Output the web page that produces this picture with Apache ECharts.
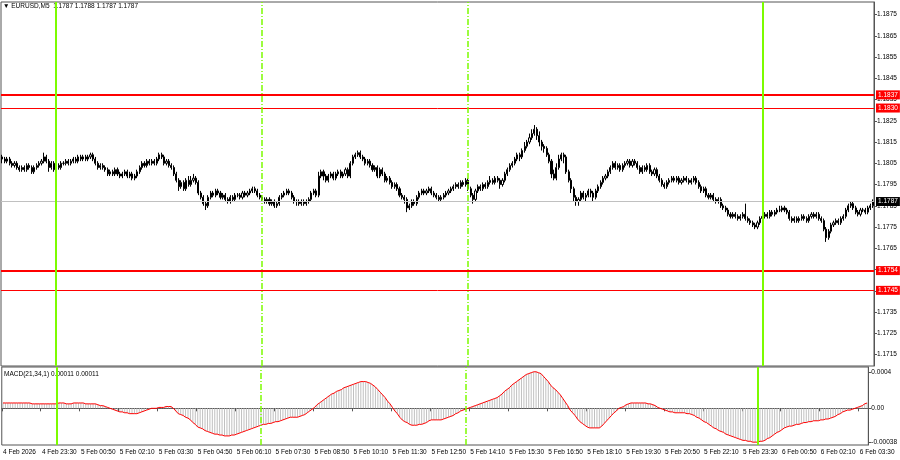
<!DOCTYPE html>
<html>
<head>
<meta charset="utf-8">
<title>EURUSD,M5</title>
<script src="https://cdn.jsdelivr.net/npm/echarts@6/dist/echarts.min.js"></script>
<style>
  html, body { margin: 0; padding: 0; background: #fff; }
  #chart { width: 900px; height: 460px; }
</style>
</head>
<body>
<div id="chart"></div>
<script>
// EURUSD M5 bars, 4 Feb 22:10 .. 6 Feb 03:45
var opens = [
  1.1808,1.1807,1.1806,1.1807,1.1805,1.1804,1.1805,1.1803,1.1802,1.1803,
  1.1802,1.1804,1.1803,1.1801,1.1803,1.1804,1.1805,1.1806,1.1808,1.1806,
  1.1803,1.1805,1.1802,1.1804,1.1803,1.1805,1.1805,1.1806,1.1805,1.1806,
  1.1807,1.1806,1.1808,1.1807,1.1808,1.1807,1.1808,1.1809,1.1807,1.1805,
  1.1803,1.1804,1.1803,1.1802,1.1800,1.1801,1.1800,1.1802,1.1800,1.1799,
  1.1800,1.1801,1.1799,1.1800,1.1798,1.1799,1.1801,1.1803,1.1805,1.1804,
  1.1806,1.1805,1.1806,1.1805,1.1807,1.1809,1.1808,1.1805,1.1806,1.1804,
  1.1803,1.1800,1.1797,1.1794,1.1796,1.1793,1.1797,1.1795,1.1797,1.1798,
  1.1796,1.1791,1.1789,1.1786,1.1785,1.1789,1.1791,1.1790,1.1792,1.1791,
  1.1789,1.1790,1.1788,1.1787,1.1789,1.1788,1.1790,1.1790,1.1789,1.1791,
  1.1790,1.1791,1.1792,1.1793,1.1792,1.1790,1.1789,1.1788,1.1787,1.1788,
  1.1786,1.1787,1.1785,1.1786,1.1789,1.1790,1.1791,1.1792,1.1791,1.1789,
  1.1787,1.1787,1.1786,1.1787,1.1786,1.1787,1.1788,1.1791,1.1792,1.1790,
  1.1799,1.1801,1.1799,1.1797,1.1799,1.1800,1.1798,1.1800,1.1801,1.1799,
  1.1800,1.1802,1.1799,1.1805,1.1808,1.1809,1.1810,1.1808,1.1807,1.1805,
  1.1806,1.1804,1.1802,1.1803,1.1799,1.1802,1.1800,1.1797,1.1798,1.1796,
  1.1794,1.1795,1.1793,1.1790,1.1789,1.1788,1.1784,1.1785,1.1787,1.1786,
  1.1789,1.1791,1.1792,1.1791,1.1792,1.1793,1.1791,1.1790,1.1789,1.1788,
  1.1789,1.1790,1.1791,1.1792,1.1793,1.1794,1.1795,1.1794,1.1796,1.1795,
  1.1797,1.1793,1.1790,1.1788,1.1792,1.1794,1.1793,1.1795,1.1794,1.1796,
  1.1797,1.1796,1.1798,1.1797,1.1795,1.1797,1.1800,1.1802,1.1804,1.1805,
  1.1807,1.1809,1.1808,1.1811,1.1813,1.1815,1.1817,1.1819,1.1821,1.1818,
  1.1815,1.1813,1.1812,1.1809,1.1806,1.1800,1.1798,1.1803,1.1807,1.1809,
  1.1808,1.1801,1.1797,1.1793,1.1789,1.1787,1.1788,1.1791,1.1789,1.1790,
  1.1792,1.1791,1.1789,1.1792,1.1794,1.1796,1.1798,1.1799,1.1801,1.1803,
  1.1805,1.1803,1.1804,1.1802,1.1804,1.1805,1.1806,1.1804,1.1806,1.1805,
  1.1803,1.1801,1.1803,1.1802,1.1804,1.1801,1.1800,1.1802,1.1799,1.1797,
  1.1795,1.1794,1.1796,1.1797,1.1798,1.1797,1.1798,1.1796,1.1797,1.1798,
  1.1797,1.1796,1.1797,1.1798,1.1796,1.1794,1.1792,1.1793,1.1790,1.1789,
  1.1790,1.1788,1.1787,1.1788,1.1785,1.1784,1.1783,1.1781,1.1780,1.1781,
  1.1780,1.1779,1.1780,1.1781,1.1779,1.1778,1.1777,1.1776,1.1775,1.1777,
  1.1779,1.1780,1.1781,1.1780,1.1782,1.1781,1.1782,1.1783,1.1783,1.1784,
  1.1783,1.1782,1.1779,1.1778,1.1779,1.1778,1.1779,1.1780,1.1779,1.1778,
  1.1780,1.1781,1.1780,1.1781,1.1779,1.1778,1.1774,1.1770,1.1773,1.1776,
  1.1777,1.1778,1.1777,1.1779,1.1780,1.1783,1.1785,1.1786,1.1784,1.1782,
  1.1781,1.1783,1.1783,1.1782,1.1784,1.1785
];
var closes = [
  1.1807,1.1806,1.1807,1.1805,1.1804,1.1805,1.1803,1.1802,1.1803,1.1802,
  1.1804,1.1803,1.1801,1.1803,1.1804,1.1805,1.1806,1.1808,1.1806,1.1803,
  1.1805,1.1802,1.1804,1.1803,1.1805,1.1805,1.1806,1.1805,1.1806,1.1807,
  1.1806,1.1808,1.1807,1.1808,1.1807,1.1808,1.1809,1.1807,1.1805,1.1803,
  1.1804,1.1803,1.1802,1.1800,1.1801,1.1800,1.1802,1.1800,1.1799,1.1800,
  1.1801,1.1799,1.1800,1.1798,1.1799,1.1801,1.1803,1.1805,1.1804,1.1806,
  1.1805,1.1806,1.1805,1.1807,1.1809,1.1808,1.1805,1.1806,1.1804,1.1803,
  1.1800,1.1797,1.1794,1.1796,1.1793,1.1797,1.1795,1.1797,1.1798,1.1796,
  1.1791,1.1789,1.1786,1.1785,1.1789,1.1791,1.1790,1.1792,1.1791,1.1789,
  1.1790,1.1788,1.1787,1.1789,1.1788,1.1790,1.1790,1.1789,1.1791,1.1790,
  1.1791,1.1792,1.1793,1.1792,1.1790,1.1789,1.1788,1.1787,1.1788,1.1786,
  1.1787,1.1785,1.1786,1.1789,1.1790,1.1791,1.1792,1.1791,1.1789,1.1787,
  1.1787,1.1786,1.1787,1.1786,1.1787,1.1788,1.1791,1.1792,1.1790,1.1799,
  1.1801,1.1799,1.1797,1.1799,1.1800,1.1798,1.1800,1.1801,1.1799,1.1800,
  1.1802,1.1799,1.1805,1.1808,1.1809,1.1810,1.1808,1.1807,1.1805,1.1806,
  1.1804,1.1802,1.1803,1.1799,1.1802,1.1800,1.1797,1.1798,1.1796,1.1794,
  1.1795,1.1793,1.1790,1.1789,1.1788,1.1784,1.1785,1.1787,1.1786,1.1789,
  1.1791,1.1792,1.1791,1.1792,1.1793,1.1791,1.1790,1.1789,1.1788,1.1789,
  1.1790,1.1791,1.1792,1.1793,1.1794,1.1795,1.1794,1.1796,1.1795,1.1797,
  1.1793,1.1790,1.1788,1.1792,1.1794,1.1793,1.1795,1.1794,1.1796,1.1797,
  1.1796,1.1798,1.1797,1.1795,1.1797,1.1800,1.1802,1.1804,1.1805,1.1807,
  1.1809,1.1808,1.1811,1.1813,1.1815,1.1817,1.1819,1.1821,1.1818,1.1815,
  1.1813,1.1812,1.1809,1.1806,1.1800,1.1798,1.1803,1.1807,1.1809,1.1808,
  1.1801,1.1797,1.1793,1.1789,1.1787,1.1788,1.1791,1.1789,1.1790,1.1792,
  1.1791,1.1789,1.1792,1.1794,1.1796,1.1798,1.1799,1.1801,1.1803,1.1805,
  1.1803,1.1804,1.1802,1.1804,1.1805,1.1806,1.1804,1.1806,1.1805,1.1803,
  1.1801,1.1803,1.1802,1.1804,1.1801,1.1800,1.1802,1.1799,1.1797,1.1795,
  1.1794,1.1796,1.1797,1.1798,1.1797,1.1798,1.1796,1.1797,1.1798,1.1797,
  1.1796,1.1797,1.1798,1.1796,1.1794,1.1792,1.1793,1.1790,1.1789,1.1790,
  1.1788,1.1787,1.1788,1.1785,1.1784,1.1783,1.1781,1.1780,1.1781,1.1780,
  1.1779,1.1780,1.1781,1.1779,1.1778,1.1777,1.1776,1.1775,1.1777,1.1779,
  1.1780,1.1781,1.1780,1.1782,1.1781,1.1782,1.1783,1.1783,1.1784,1.1783,
  1.1782,1.1779,1.1778,1.1779,1.1778,1.1779,1.1780,1.1779,1.1778,1.1780,
  1.1781,1.1780,1.1781,1.1779,1.1778,1.1774,1.1770,1.1773,1.1776,1.1777,
  1.1778,1.1777,1.1779,1.1780,1.1783,1.1785,1.1786,1.1784,1.1782,1.1781,
  1.1783,1.1783,1.1782,1.1784,1.1785,1.1787
];
var highs = [
  1.1809,1.1808,1.1808,1.1808,1.1806,1.1806,1.1806,1.1804,1.1804,1.1804,
  1.1805,1.1805,1.1804,1.1804,1.1805,1.1806,1.1807,1.1810,1.1809,1.1807,
  1.1806,1.1806,1.1805,1.1805,1.1806,1.1806,1.1807,1.1807,1.1807,1.1808,
  1.1808,1.1809,1.1809,1.1809,1.1809,1.1809,1.1810,1.1810,1.1808,1.1806,
  1.1805,1.1805,1.1804,1.1803,1.1802,1.1802,1.1803,1.1803,1.1801,1.1801,
  1.1802,1.1802,1.1801,1.1801,1.1800,1.1802,1.1804,1.1806,1.1806,1.1807,
  1.1807,1.1807,1.1807,1.1808,1.1810,1.1810,1.1809,1.1807,1.1807,1.1805,
  1.1804,1.1801,1.1798,1.1797,1.1797,1.1798,1.1799,1.1799,1.1800,1.1799,
  1.1797,1.1792,1.1790,1.1787,1.1790,1.1792,1.1792,1.1793,1.1793,1.1792,
  1.1791,1.1791,1.1789,1.1790,1.1790,1.1791,1.1791,1.1791,1.1792,1.1792,
  1.1792,1.1793,1.1794,1.1794,1.1793,1.1791,1.1790,1.1789,1.1789,1.1789,
  1.1788,1.1788,1.1787,1.1790,1.1791,1.1792,1.1793,1.1793,1.1792,1.1790,
  1.1788,1.1788,1.1788,1.1788,1.1788,1.1789,1.1792,1.1793,1.1793,1.1801,
  1.1802,1.1802,1.1800,1.1800,1.1801,1.1801,1.1801,1.1802,1.1802,1.1801,
  1.1803,1.1803,1.1806,1.1809,1.1810,1.1811,1.1811,1.1809,1.1808,1.1807,
  1.1807,1.1805,1.1804,1.1804,1.1803,1.1803,1.1801,1.1799,1.1799,1.1797,
  1.1796,1.1796,1.1794,1.1791,1.1790,1.1789,1.1786,1.1788,1.1788,1.1790,
  1.1792,1.1793,1.1793,1.1793,1.1794,1.1794,1.1792,1.1791,1.1790,1.1790,
  1.1791,1.1792,1.1793,1.1794,1.1795,1.1796,1.1796,1.1797,1.1797,1.1798,
  1.1798,1.1794,1.1791,1.1793,1.1795,1.1795,1.1796,1.1796,1.1797,1.1799,
  1.1798,1.1799,1.1799,1.1798,1.1798,1.1801,1.1803,1.1805,1.1806,1.1808,
  1.1810,1.1810,1.1812,1.1815,1.1816,1.1819,1.1821,1.1823,1.1822,1.1820,
  1.1816,1.1814,1.1813,1.1810,1.1807,1.1802,1.1805,1.1809,1.1810,1.1810,
  1.1809,1.1802,1.1798,1.1794,1.1790,1.1789,1.1792,1.1792,1.1791,1.1793,
  1.1793,1.1792,1.1793,1.1795,1.1797,1.1799,1.1800,1.1802,1.1804,1.1806,
  1.1806,1.1805,1.1805,1.1805,1.1806,1.1807,1.1807,1.1807,1.1807,1.1806,
  1.1804,1.1804,1.1804,1.1805,1.1805,1.1802,1.1803,1.1803,1.1800,1.1798,
  1.1796,1.1797,1.1798,1.1799,1.1799,1.1799,1.1799,1.1798,1.1799,1.1799,
  1.1798,1.1798,1.1799,1.1799,1.1797,1.1795,1.1794,1.1794,1.1791,1.1791,
  1.1791,1.1789,1.1789,1.1789,1.1786,1.1785,1.1784,1.1782,1.1782,1.1782,
  1.1781,1.1781,1.1782,1.1786,1.1780,1.1779,1.1778,1.1777,1.1778,1.1780,
  1.1781,1.1782,1.1782,1.1783,1.1783,1.1783,1.1784,1.1785,1.1785,1.1785,
  1.1784,1.1783,1.1780,1.1780,1.1780,1.1780,1.1781,1.1781,1.1780,1.1781,
  1.1782,1.1782,1.1782,1.1782,1.1780,1.1779,1.1775,1.1774,1.1777,1.1778,
  1.1779,1.1779,1.1780,1.1781,1.1784,1.1786,1.1787,1.1787,1.1785,1.1783,
  1.1784,1.1784,1.1784,1.1785,1.1786,1.1788
];
var lows = [
  1.1805,1.1805,1.1805,1.1804,1.1803,1.1803,1.1802,1.1801,1.1801,1.1801,
  1.1801,1.1802,1.1800,1.1800,1.1802,1.1803,1.1804,1.1805,1.1805,1.1801,
  1.1802,1.1801,1.1801,1.1802,1.1802,1.1804,1.1804,1.1804,1.1804,1.1805,
  1.1805,1.1805,1.1806,1.1806,1.1806,1.1806,1.1807,1.1806,1.1804,1.1802,
  1.1802,1.1802,1.1801,1.1799,1.1799,1.1799,1.1799,1.1799,1.1798,1.1798,
  1.1799,1.1798,1.1798,1.1797,1.1797,1.1798,1.1800,1.1802,1.1803,1.1803,
  1.1804,1.1804,1.1804,1.1804,1.1806,1.1807,1.1804,1.1804,1.1803,1.1802,
  1.1799,1.1796,1.1792,1.1793,1.1792,1.1792,1.1794,1.1794,1.1796,1.1795,
  1.1790,1.1788,1.1785,1.1783,1.1784,1.1788,1.1789,1.1789,1.1790,1.1788,
  1.1788,1.1787,1.1786,1.1786,1.1787,1.1787,1.1789,1.1788,1.1788,1.1789,
  1.1789,1.1790,1.1791,1.1791,1.1789,1.1788,1.1787,1.1786,1.1786,1.1785,
  1.1785,1.1784,1.1784,1.1785,1.1788,1.1789,1.1790,1.1790,1.1788,1.1786,
  1.1785,1.1785,1.1785,1.1785,1.1785,1.1786,1.1787,1.1790,1.1789,1.1789,
  1.1798,1.1797,1.1796,1.1796,1.1798,1.1797,1.1797,1.1799,1.1798,1.1798,
  1.1799,1.1798,1.1798,1.1804,1.1807,1.1808,1.1807,1.1806,1.1804,1.1804,
  1.1803,1.1801,1.1801,1.1798,1.1798,1.1799,1.1796,1.1796,1.1795,1.1793,
  1.1793,1.1792,1.1789,1.1788,1.1786,1.1782,1.1783,1.1784,1.1785,1.1785,
  1.1788,1.1790,1.1790,1.1790,1.1791,1.1790,1.1789,1.1788,1.1787,1.1787,
  1.1788,1.1789,1.1790,1.1791,1.1792,1.1793,1.1793,1.1793,1.1794,1.1794,
  1.1792,1.1789,1.1786,1.1787,1.1791,1.1792,1.1792,1.1793,1.1793,1.1795,
  1.1795,1.1795,1.1796,1.1793,1.1794,1.1796,1.1799,1.1801,1.1803,1.1804,
  1.1806,1.1806,1.1807,1.1810,1.1812,1.1814,1.1816,1.1818,1.1816,1.1813,
  1.1811,1.1810,1.1808,1.1805,1.1798,1.1797,1.1797,1.1802,1.1806,1.1805,
  1.1800,1.1796,1.1791,1.1787,1.1785,1.1785,1.1787,1.1788,1.1787,1.1789,
  1.1789,1.1787,1.1788,1.1791,1.1793,1.1795,1.1797,1.1798,1.1800,1.1802,
  1.1802,1.1802,1.1801,1.1801,1.1803,1.1804,1.1803,1.1803,1.1804,1.1802,
  1.1800,1.1800,1.1801,1.1801,1.1800,1.1799,1.1799,1.1798,1.1796,1.1794,
  1.1793,1.1793,1.1795,1.1796,1.1796,1.1796,1.1795,1.1795,1.1796,1.1796,
  1.1795,1.1795,1.1796,1.1795,1.1793,1.1791,1.1791,1.1789,1.1788,1.1788,
  1.1787,1.1786,1.1786,1.1784,1.1783,1.1782,1.1780,1.1779,1.1779,1.1779,
  1.1778,1.1778,1.1779,1.1778,1.1777,1.1776,1.1775,1.1774,1.1774,1.1776,
  1.1778,1.1779,1.1779,1.1779,1.1780,1.1780,1.1781,1.1782,1.1782,1.1782,
  1.1781,1.1778,1.1777,1.1777,1.1777,1.1777,1.1778,1.1778,1.1777,1.1777,
  1.1779,1.1779,1.1779,1.1778,1.1777,1.1773,1.1768,1.1769,1.1772,1.1775,
  1.1776,1.1776,1.1776,1.1778,1.1779,1.1782,1.1784,1.1783,1.1781,1.1780,
  1.1780,1.1782,1.1781,1.1781,1.1783,1.1784
];
// MACD(21,34,1) main value per bar; the signal is SMA(1) of it, so the same numbers
var macd = [
  0.00006,0.00006,0.00006,0.00006,0.00006,0.00006,0.00006,0.00006,0.00006,0.00006,
  0.00006,0.00006,0.00005,0.00005,0.00005,0.00005,0.00005,0.00005,0.00005,0.00005,
  0.00005,0.00005,0.00005,0.00006,0.00006,0.00006,0.00005,0.00005,0.00005,0.00006,
  0.00006,0.00006,0.00006,0.00006,0.00005,0.00005,0.00005,0.00005,0.00005,0.00004,
  0.00003,0.00003,0.00002,0.00001,0,-0.00001,-0.00002,-0.00003,-0.00004,-0.00004,
  -0.00005,-0.00005,-0.00006,-0.00006,-0.00006,-0.00006,-0.00005,-0.00004,-0.00003,-0.00002,
  -0.00001,0,0,0,0.00001,0.00001,0.00001,0.00002,0.00002,0.00002,
  0,-0.00003,-0.00006,-0.00007,-0.00008,-0.0001,-0.00011,-0.00013,-0.00016,-0.00018,
  -0.00021,-0.00022,-0.00023,-0.00025,-0.00026,-0.00027,-0.00028,-0.00029,-0.00029,-0.0003,
  -0.0003,-0.00031,-0.00031,-0.00031,-0.0003,-0.0003,-0.00029,-0.00028,-0.00027,-0.00026,
  -0.00025,-0.00024,-0.00023,-0.00022,-0.00021,-0.0002,-0.00019,-0.00018,-0.00018,-0.00017,
  -0.00017,-0.00016,-0.00015,-0.00015,-0.00014,-0.00013,-0.00012,-0.00011,-0.0001,-0.0001,
  -0.0001,-0.0001,-0.00009,-0.00008,-0.00007,-0.00005,-0.00003,-0.00001,0.00001,0.00004,
  0.00006,0.00008,0.0001,0.00012,0.00014,0.00016,0.00017,0.00019,0.0002,0.00021,
  0.00023,0.00024,0.00025,0.00026,0.00027,0.00028,0.00029,0.0003,0.0003,0.0003,
  0.00029,0.00028,0.00026,0.00024,0.00021,0.00018,0.00015,0.00012,0.00008,0.00005,
  0.00001,-0.00003,-0.00006,-0.0001,-0.00013,-0.00015,-0.00016,-0.00018,-0.00019,-0.00019,
  -0.00019,-0.00018,-0.00018,-0.00017,-0.00016,-0.00014,-0.00013,-0.00013,-0.00013,-0.00013,
  -0.00013,-0.00012,-0.00011,-0.0001,-0.00009,-0.00008,-0.00006,-0.00005,-0.00003,-0.00002,
  -0.00001,0,0.00001,0.00002,0.00003,0.00004,0.00005,0.00006,0.00007,0.00008,
  0.00009,0.0001,0.00011,0.00012,0.00014,0.00016,0.00019,0.00021,0.00023,0.00026,
  0.00028,0.0003,0.00032,0.00034,0.00036,0.00038,0.00039,0.0004,0.00041,0.00041,
  0.0004,0.00039,0.00036,0.00033,0.0003,0.00026,0.00023,0.00021,0.00018,0.00015,
  0.00011,0.00007,0.00003,-0.00002,-0.00005,-0.00008,-0.00012,-0.00015,-0.00017,-0.00019,
  -0.00021,-0.00022,-0.00022,-0.00022,-0.00022,-0.00022,-0.0002,-0.00017,-0.00014,-0.00011,
  -0.00008,-0.00005,-0.00003,0,0.00001,0.00002,0.00004,0.00005,0.00006,0.00006,
  0.00006,0.00006,0.00006,0.00006,0.00006,0.00005,0.00005,0.00004,0.00003,0.00001,
  0,-0.00001,-0.00002,-0.00003,-0.00004,-0.00004,-0.00005,-0.00005,-0.00005,-0.00005,
  -0.00005,-0.00006,-0.00006,-0.00007,-0.00008,-0.0001,-0.00011,-0.00013,-0.00015,-0.00016,
  -0.00018,-0.0002,-0.00022,-0.00023,-0.00025,-0.00026,-0.00027,-0.00029,-0.0003,-0.00031,
  -0.00032,-0.00033,-0.00034,-0.00035,-0.00036,-0.00036,-0.00037,-0.00037,-0.00038,-0.00038,
  -0.00038,-0.00037,-0.00037,-0.00036,-0.00034,-0.00033,-0.00031,-0.00029,-0.00027,-0.00026,
  -0.00024,-0.00022,-0.00021,-0.0002,-0.0002,-0.00019,-0.00018,-0.00018,-0.00017,-0.00016,
  -0.00016,-0.00015,-0.00015,-0.00014,-0.00014,-0.00014,-0.00013,-0.00013,-0.00012,-0.00012,
  -0.00011,-0.0001,-0.00009,-0.00007,-0.00006,-0.00004,-0.00003,-0.00002,-0.00002,-0.00001,
  0,0.00001,0.00002,0.00003,0.00005,0.00006
];
var signal = macd;

// one time label every 16 bars
var timeLabels = [
  '4 Feb 2026', '4 Feb 23:30', '5 Feb 00:50', '5 Feb 02:10', '5 Feb 03:30', '5 Feb 04:50',
  '5 Feb 06:10', '5 Feb 07:30', '5 Feb 08:50', '5 Feb 10:10', '5 Feb 11:30', '5 Feb 12:50',
  '5 Feb 14:10', '5 Feb 15:30', '5 Feb 16:50', '5 Feb 18:10', '5 Feb 19:30', '5 Feb 20:50',
  '5 Feb 22:10', '5 Feb 23:30', '6 Feb 00:50', '6 Feb 02:10', '6 Feb 03:30'
];
var priceTicks = [1.1715, 1.1725, 1.1735, 1.1745, 1.1755, 1.1765, 1.1775, 1.1785, 1.1795,
  1.1805, 1.1815, 1.1825, 1.1835, 1.1845, 1.1855, 1.1865, 1.1875];
var macdTicks = [0.0004, 0, -0.00038];
var macdTickLabels = ['0.0004', '0.00', '-0.00038'];

// horizontal levels (bold / thin) and the bid line
var levels = [1.18372, 1.18310, 1.17545, 1.17452];
var levelLabels = ['1.1837', '1.1830', '1.1754', '1.1745'];
var levelWidths = [2, 1, 2, 1];
var lastPrice = 1.1787;
var lastLabel = '1.1787';
// bar indexes of the day separators and the session lines
var dayLines = [22, 310];
var sessionLines = [106, 190];

var FONT = 'Liberation Sans';
var FS = 6.5;
var LEVEL_RED = '#ff0000';
var GREEN = '#7cfc00';

var cats = closes.map(function (c, i) { return i; });
var candles = closes.map(function (c, i) { return [opens[i], c, lows[i], highs[i]]; });

function every16(i) { return i % 16 === 0; }

function verticalLines() {
  var out = [];
  dayLines.forEach(function (i) {
    out.push({ xAxis: i, lineStyle: { color: GREEN, width: 2, type: 'solid' }, label: { show: false } });
  });
  sessionLines.forEach(function (i) {
    out.push({ xAxis: i, lineStyle: { color: GREEN, width: 1.5, type: [6, 2, 1, 2] }, label: { show: false } });
  });
  return out;
}

var priceMarks = levels.map(function (v, k) {
  return {
    yAxis: v,
    lineStyle: { color: LEVEL_RED, width: levelWidths[k], type: 'solid' },
    label: {
      show: true, position: 'end', distance: 2, formatter: levelLabels[k],
      color: '#fff', backgroundColor: LEVEL_RED, padding: [1, 2, 1, 2],
      fontFamily: FONT, fontSize: FS
    }
  };
});
priceMarks.push({
  yAxis: lastPrice,
  lineStyle: { color: '#c0c0c0', width: 1, type: 'solid' },
  label: {
    show: true, position: 'end', distance: 2, formatter: lastLabel,
    color: '#fff', backgroundColor: '#000', padding: [1, 2, 1, 2],
    fontFamily: FONT, fontSize: FS
  }
});

var chart = echarts.init(document.getElementById('chart'));
chart.setOption({
  animation: false,
  backgroundColor: '#fff',
  textStyle: { fontFamily: FONT },
  graphic: [
    {
      type: 'text', left: 3, top: 3,
      style: { text: '\u25BC EURUSD,M5  1.1787 1.1788 1.1787 1.1787', fill: '#000', font: FS + 'px "' + FONT + '"' }
    },
    {
      type: 'text', left: 4, top: 371,
      style: { text: 'MACD(21,34,1) 0.00011 0.00011', fill: '#000', font: FS + 'px "' + FONT + '"' }
    }
  ],
  grid: [
    { left: 1, right: 26, top: 2, height: 364, show: true, borderColor: '#555', borderWidth: 1 },
    { left: 1, right: 26, top: 367, height: 78, show: true, borderColor: '#555', borderWidth: 1 }
  ],
  xAxis: [
    {
      type: 'category', gridIndex: 0, data: cats, boundaryGap: true,
      axisLine: { show: false }, axisTick: { show: false }, axisLabel: { show: false }, splitLine: { show: false }
    },
    {
      type: 'category', gridIndex: 1, data: cats, boundaryGap: true,
      axisLine: { show: true, lineStyle: { color: '#555' } },
      axisTick: { show: true, interval: every16, length: 3, lineStyle: { color: '#555' } },
      axisLabel: {
        interval: every16, align: 'left', margin: 4, color: '#000', fontFamily: FONT, fontSize: FS,
        formatter: function (v, idx) { return timeLabels[idx / 16] || ''; }
      },
      splitLine: { show: false }
    }
  ],
  yAxis: [
    {
      type: 'value', gridIndex: 0, position: 'right', min: 1.17096, max: 1.18809,
      axisLine: { show: true, lineStyle: { color: '#555' } },
      axisTick: { show: true, length: 3, customValues: priceTicks, lineStyle: { color: '#555' } },
      axisLabel: {
        customValues: priceTicks, margin: 3, color: '#000', fontFamily: FONT, fontSize: FS,
        formatter: function (v) { return v.toFixed(4); }
      },
      splitLine: { show: false }
    },
    {
      type: 'value', gridIndex: 1, position: 'right', min: -0.000412, max: 0.000464,
      axisLine: { show: true, lineStyle: { color: '#555' } },
      axisTick: { show: true, length: 3, customValues: macdTicks, lineStyle: { color: '#555' } },
      axisLabel: {
        customValues: macdTicks, margin: 3, color: '#000', fontFamily: FONT, fontSize: FS,
        formatter: function (v) {
          for (var k = 0; k < macdTicks.length; k++) {
            if (Math.abs(macdTicks[k] - v) < 1e-9) return macdTickLabels[k];
          }
          return '';
        }
      },
      splitLine: { show: false }
    }
  ],
  series: [
    {
      // carries the horizontal price levels only
      name: 'levels', type: 'line', xAxisIndex: 0, yAxisIndex: 0,
      data: [], symbol: 'none', z: 1,
      markLine: {
        silent: true, symbol: ['none', 'none'], animation: false, precision: 5,
        data: priceMarks
      }
    },
    {
      name: 'EURUSD,M5', type: 'candlestick', xAxisIndex: 0, yAxisIndex: 0,
      data: candles, barWidth: 1.6, z: 2,
      itemStyle: { color: '#ffffff', color0: '#000000', borderColor: '#000000', borderColor0: '#000000', borderWidth: 1 },
      markLine: {
        silent: true, symbol: ['none', 'none'], animation: false,
        data: verticalLines()
      }
    },
    {
      name: 'MACD', type: 'bar', xAxisIndex: 1, yAxisIndex: 1,
      data: macd, barWidth: 1,
      itemStyle: { color: '#c0c0c0' },
      markLine: {
        silent: true, symbol: ['none', 'none'], animation: false,
        data: verticalLines()
      }
    },
    {
      name: 'Signal', type: 'line', xAxisIndex: 1, yAxisIndex: 1,
      data: signal, symbol: 'none', smooth: false,
      lineStyle: { color: '#ff0000', width: 1 }
    }
  ]
});
</script>
</body>
</html>
